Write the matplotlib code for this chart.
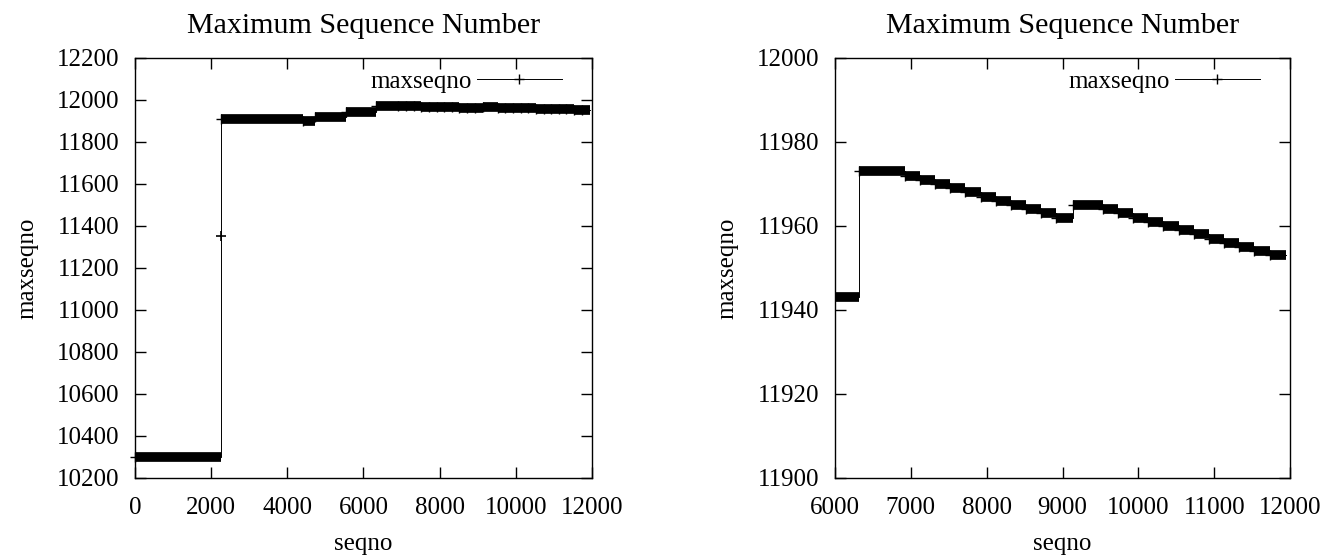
import numpy as np
import matplotlib.pyplot as plt
from matplotlib.lines import Line2D

plt.rcParams['font.family'] = ['Liberation Serif', 'DejaVu Serif']
plt.rcParams['font.size'] = 18

# step data: each run of sequence numbers shares one max value
seg_start = [0, 2250, 4420, 4720, 5550, 6320,
             6920, 7120, 7320, 7520, 7720, 7920, 8120, 8320, 8520, 8720, 8920,
             9140, 9530, 9730, 9930, 10130, 10330, 10530, 10730, 10930, 11130,
             11330, 11530, 11730]
seg_end = seg_start[1:] + [11950]
seg_value = [10300, 11908, 11901, 11919, 11943, 11973,
             11972, 11971, 11970, 11969, 11968, 11967, 11966, 11965, 11964, 11963, 11962,
             11965, 11964, 11963, 11962, 11961, 11960, 11959, 11958, 11957, 11956,
             11955, 11954, 11953]

# lone sample caught mid-jump
jump_x = [2250]
jump_y = [11350]

# connecting path through all the runs
path_x = []
path_y = []
for s, e, v in zip(seg_start, seg_end, seg_value):
    path_x += [s, e]
    path_y += [v, v]

fig = plt.figure(figsize=(13.35, 5.56), dpi=100)
ax1 = fig.add_axes([0.1011, 0.1403, 0.3423, 0.7554])
ax2 = fig.add_axes([0.6255, 0.1403, 0.3408, 0.7554])


def draw(ax, clip=True):
    ax.plot(path_x, path_y, color='black', lw=0.7)
    for s, e, v in zip(seg_start, seg_end, seg_value):
        ax.plot([s, e], [v, v], color='black', lw=7, solid_capstyle='butt')
    # gnuplot does not clip point symbols at the border
    ax.plot(seg_start, seg_value, ls='none', marker='+', ms=7, mew=1.0,
            color='black', clip_on=clip)
    ax.plot(jump_x, jump_y, ls='none', marker='+', ms=7, mew=1.2, color='black')
    ax.set_title('Maximum Sequence Number', pad=17.7)
    ax.set_xlabel('seqno', labelpad=9.8)
    ax.set_ylabel('maxseqno', labelpad=13.5)
    ax.tick_params(direction='in', length=8, width=1, top=True, right=True)
    ax.tick_params(axis='x', pad=13.7)
    ax.tick_params(axis='y', pad=11)
    for sp in ax.spines.values():
        sp.set_linewidth(1.0)
    handle = Line2D([], [], color='black', lw=0.7, marker='+', ms=7, mew=1)
    ax.legend([handle], ['maxseqno'], loc='center right', frameon=False,
              markerfirst=False, handlelength=3.4, handletextpad=0.2,
              borderaxespad=0, borderpad=0, bbox_to_anchor=(0.934, 0.943))


draw(ax1, clip=False)
ax1.set_xlim(0, 12000)
ax1.set_ylim(10200, 12200)
ax1.set_xticks(np.arange(0, 12001, 2000))
ax1.set_yticks(np.arange(10200, 12201, 200))

draw(ax2)
ax2.set_xlim(6000, 12000)
ax2.set_ylim(11900, 12000)
ax2.set_xticks(np.arange(6000, 12001, 1000))
ax2.set_yticks(np.arange(11900, 12001, 20))

fig.savefig('out.png', dpi=100)
